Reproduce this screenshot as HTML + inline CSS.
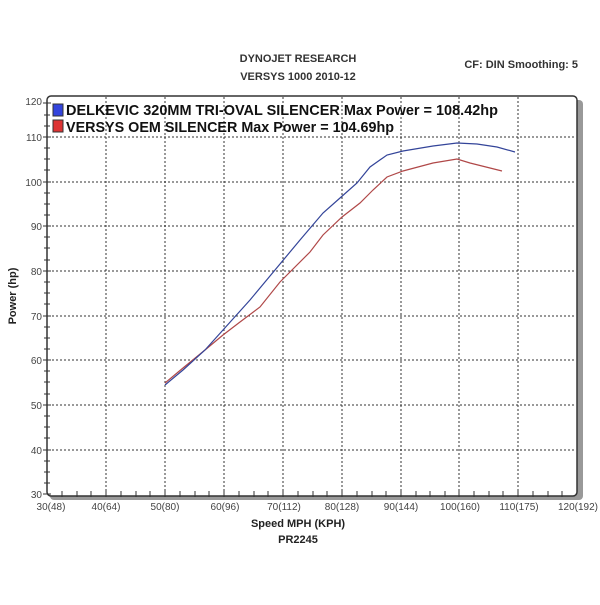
<!DOCTYPE html>
<html><head><style>body{margin:0;background:#fff}</style></head><body>
<svg width="600" height="600" xmlns="http://www.w3.org/2000/svg" font-family="Liberation Sans, sans-serif">
<rect width="600" height="600" fill="#fff"/>
<text x="298" y="62" font-size="11" font-weight="bold" text-anchor="middle" fill="#333">DYNOJET RESEARCH</text>
<text x="298" y="80" font-size="11" font-weight="bold" text-anchor="middle" fill="#333">VERSYS 1000 2010-12</text>
<text x="578" y="68" font-size="11" font-weight="bold" text-anchor="end" fill="#333">CF: DIN  Smoothing: 5</text>
<rect x="50" y="100" width="533" height="400" rx="4" fill="#999"/>
<rect x="47" y="96" width="530" height="400" rx="4" fill="#fff" stroke="#333" stroke-width="1.5"/>
<g stroke="#333" stroke-width="1" stroke-dasharray="2,2">
<line x1="106" y1="97" x2="106" y2="495"/><line x1="165" y1="97" x2="165" y2="495"/><line x1="224" y1="97" x2="224" y2="495"/><line x1="283" y1="97" x2="283" y2="495"/><line x1="342" y1="97" x2="342" y2="495"/><line x1="401" y1="97" x2="401" y2="495"/><line x1="459" y1="97" x2="459" y2="495"/><line x1="518" y1="97" x2="518" y2="495"/>
<line x1="48" y1="137" x2="576" y2="137"/><line x1="48" y1="182" x2="576" y2="182"/><line x1="48" y1="226" x2="576" y2="226"/><line x1="48" y1="271" x2="576" y2="271"/><line x1="48" y1="316" x2="576" y2="316"/><line x1="48" y1="360" x2="576" y2="360"/><line x1="48" y1="405" x2="576" y2="405"/><line x1="48" y1="450" x2="576" y2="450"/>
</g>
<g stroke="#333" stroke-width="1">
<path d="M43 103h8M43 137h8M43 182h8M43 226h8M43 271h8M43 316h8M43 360h8M43 405h8M43 450h8M43 494h8M44 115h6M44 126h6M44 148h6M44 159h6M44 170h6M44 193h6M44 204h6M44 215h6M44 237h6M44 248h6M44 260h6M44 282h6M44 293h6M44 304h6M44 327h6M44 338h6M44 349h6M44 371h6M44 382h6M44 394h6M44 416h6M44 427h6M44 438h6M44 461h6M44 472h6M44 483h6"/>
<path d="M62 491v6M77 491v6M91 491v6M106 489v8M121 491v6M136 491v6M150 491v6M165 489v8M180 491v6M195 491v6M209 491v6M224 489v8M239 491v6M254 491v6M268 491v6M283 489v8M298 491v6M313 491v6M327 491v6M342 489v8M357 491v6M372 491v6M386 491v6M401 489v8M416 491v6M430 491v6M445 491v6M459 489v8M474 491v6M489 491v6M503 491v6M518 489v8M533 491v6M548 491v6M562 491v6"/>
</g>
<g fill="#444" font-size="10" text-anchor="end">
<text x="42" y="105">120</text><text x="42" y="141">110</text><text x="42" y="186">100</text><text x="42" y="230">90</text><text x="42" y="275">80</text><text x="42" y="320">70</text><text x="42" y="364">60</text><text x="42" y="409">50</text><text x="42" y="454">40</text><text x="42" y="498">30</text>
</g>
<g fill="#444" font-size="10" text-anchor="middle">
<text x="51" y="510">30(48)</text><text x="106" y="510">40(64)</text><text x="165" y="510">50(80)</text><text x="225" y="510">60(96)</text><text x="284" y="510">70(112)</text><text x="342" y="510">80(128)</text><text x="401" y="510">90(144)</text><text x="460" y="510">100(160)</text><text x="519" y="510">110(175)</text><text x="578" y="510">120(192)</text>
</g>
<text x="298" y="527" font-size="11" font-weight="bold" text-anchor="middle" fill="#222">Speed MPH (KPH)</text>
<text x="298" y="543" font-size="11" font-weight="bold" text-anchor="middle" fill="#222">PR2245</text>
<text transform="translate(16,296) rotate(-90)" font-size="11" font-weight="bold" text-anchor="middle" fill="#222">Power (hp)</text>
<rect x="53" y="104" width="10" height="12" fill="#3344dd" stroke="#333"/>
<rect x="53" y="120" width="10" height="12" fill="#dd3333" stroke="#333"/>
<text x="66" y="115" font-size="15" font-weight="bold" fill="#111" textLength="432" lengthAdjust="spacingAndGlyphs">DELKEVIC 320MM TRI-OVAL SILENCER  Max Power = 108.42hp</text>
<text x="66" y="132" font-size="15" font-weight="bold" fill="#111" textLength="328" lengthAdjust="spacingAndGlyphs">VERSYS OEM SILENCER Max Power = 104.69hp</text>
<polyline fill="none" stroke="#b04848" stroke-width="1.2" points="165,383 183,368 205,350 223,335 240,322 260,307 280,282 310,252 323,235 342,217 360,203 373,190 387,177 403,171 433,163 457,159 470,163 502,171"/>
<polyline fill="none" stroke="#334499" stroke-width="1.2" points="165,385 183,370 205,350 223,330 250,300 275,270 300,240 323,213 340,198 357,183 370,167 387,155 403,151 433,146 457,143 477,144 497,147 515,152"/>
</svg>
</body></html>
